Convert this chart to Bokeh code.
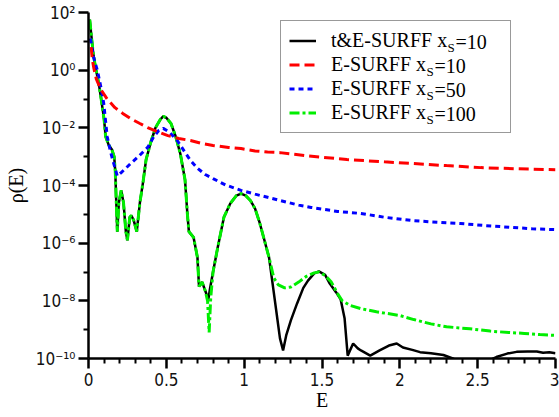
import numpy as np
from bokeh.plotting import figure
from bokeh.models import (FixedTicker, CustomJSTickFormatter, Legend, LegendItem, Label)
from bokeh.embed import file_html
from bokeh.resources import INLINE

# ---- data (E, log10 rho(E)) ----
black_E = [0.008, 0.017, 0.03, 0.045, 0.066, 0.08, 0.10, 0.11, 0.13, 0.15,
           0.165, 0.172, 0.178, 0.185, 0.195, 0.21, 0.225, 0.24, 0.25, 0.265,
           0.275, 0.29, 0.31, 0.33, 0.35, 0.37, 0.40, 0.43, 0.46, 0.48,
           0.50, 0.53, 0.56, 0.59, 0.62, 0.635, 0.645, 0.675, 0.70, 0.71,
           0.73, 0.75, 0.77, 0.78, 0.80, 0.83, 0.87, 0.91, 0.95, 0.98,
           1.01, 1.04, 1.07, 1.10, 1.13, 1.16, 1.18, 1.21, 1.23, 1.25,
           1.27, 1.30, 1.34, 1.38, 1.41, 1.45, 1.48, 1.52, 1.55, 1.59,
           1.62, 1.645, 1.665, 1.70, 1.73, 1.75, 1.81, 1.87, 1.93, 1.98,
           2.02, 2.08, 2.13, 2.20, 2.28, 2.34, 2.40, 2.50, 2.58, 2.62,
           2.69, 2.75, 2.82, 2.88, 2.92, 2.96, 3.0]
black_log = [1.75, 1.27, 0.6, 0.1, -0.46, -0.95, -1.7, -2.3, -2.6, -2.75,
             -3.0, -3.5, -4.5, -5.6, -4.6, -4.17, -4.6, -5.6, -5.9, -5.1,
             -5.04, -5.2, -5.6, -4.6, -3.9, -3.1, -2.5, -2.0, -1.72, -1.6,
             -1.65, -1.85, -2.3, -2.9, -3.8, -4.97, -5.6, -5.8, -6.5, -7.5,
             -7.35, -7.65, -7.95, -7.6, -7.0, -6.15, -5.1, -4.63, -4.35, -4.28,
             -4.35, -4.52, -4.8, -5.3, -5.9, -6.5, -7.3, -8.5, -9.3, -9.72,
             -9.2, -8.68, -8.09, -7.55, -7.3, -7.05, -6.98, -7.1, -7.4, -7.7,
             -7.95, -8.6, -9.9, -9.48, -9.65, -9.72, -9.9, -9.72, -9.55, -9.48,
             -9.62, -9.7, -9.78, -9.82, -9.88, -10.0, -10.15, -10.2, -10.05, -9.95,
             -9.83, -9.77, -9.76, -9.76, -9.8, -9.78, -9.82]

red_E = [0.017, 0.025, 0.035, 0.05, 0.077, 0.12, 0.17, 0.22, 0.27, 0.33,
         0.38, 0.45, 0.51, 0.58, 0.655, 0.72, 0.80, 0.90, 0.98, 1.07,
         1.15, 1.23, 1.40, 1.66, 1.90, 2.09, 2.30, 2.52, 2.75, 3.0]
red_log = [0.8, 0.35, 0.05, -0.3, -0.65, -1.0, -1.3, -1.5, -1.68, -1.85,
           -1.99, -2.15, -2.27, -2.37, -2.44, -2.53, -2.61, -2.68, -2.72, -2.8,
           -2.84, -2.86, -2.97, -3.1, -3.18, -3.24, -3.31, -3.38, -3.42, -3.45]

blue_E = [0.012, 0.017, 0.03, 0.057, 0.08, 0.098, 0.12, 0.14, 0.16, 0.185,
          0.21, 0.24, 0.27, 0.32, 0.38, 0.42, 0.45, 0.48, 0.52, 0.57,
          0.62, 0.655, 0.70, 0.75, 0.80, 0.88, 0.98, 1.07, 1.15, 1.23,
          1.35, 1.43, 1.60, 1.75, 1.90, 2.07, 2.20, 2.39, 2.55, 2.71,
          2.85, 3.0]
blue_log = [1.1, 0.95, 0.5, -0.01, -0.6, -1.16, -2.3, -2.8, -3.2, -3.67,
            -3.55, -3.4, -3.24, -3.0, -2.68, -2.3, -2.1, -2.02, -2.15, -2.44,
            -2.85, -3.13, -3.4, -3.62, -3.76, -3.98, -4.17, -4.3, -4.41, -4.52,
            -4.68, -4.76, -4.9, -4.97, -5.1, -5.21, -5.26, -5.32, -5.39, -5.45,
            -5.5, -5.53]

green_E = [0.008, 0.017, 0.03, 0.045, 0.066, 0.08, 0.10, 0.11, 0.13, 0.15,
           0.165, 0.172, 0.178, 0.185, 0.195, 0.21, 0.225, 0.24, 0.25, 0.265,
           0.275, 0.29, 0.31, 0.33, 0.35, 0.37, 0.40, 0.43, 0.46, 0.48,
           0.50, 0.53, 0.56, 0.59, 0.62, 0.635, 0.645, 0.675, 0.70, 0.71,
           0.73, 0.75, 0.765, 0.775, 0.785, 0.80, 0.83, 0.87, 0.91, 0.95,
           0.98, 1.01, 1.04, 1.07, 1.10, 1.13, 1.16, 1.19, 1.22, 1.26,
           1.30, 1.35, 1.40, 1.45, 1.48, 1.52, 1.56, 1.60, 1.63, 1.68,
           1.75, 1.85, 1.92, 2.0, 2.09, 2.2, 2.3, 2.45, 2.58, 2.7,
           2.8, 2.9, 3.0]
green_log = [1.75, 1.27, 0.6, 0.1, -0.46, -0.95, -1.7, -2.3, -2.6, -2.75,
             -3.0, -3.5, -4.5, -5.6, -4.6, -4.17, -4.6, -5.6, -5.9, -5.1,
             -5.04, -5.2, -5.6, -4.6, -3.9, -3.1, -2.5, -2.0, -1.72, -1.6,
             -1.65, -1.85, -2.3, -2.9, -3.8, -4.97, -5.6, -5.8, -6.5, -7.5,
             -7.35, -7.65, -8.0, -9.1, -7.9, -7.0, -6.15, -5.1, -4.63, -4.35,
             -4.28, -4.35, -4.52, -4.8, -5.3, -5.9, -6.5, -7.2, -7.45, -7.55,
             -7.52, -7.35, -7.15, -7.03, -7.0, -7.12, -7.35, -7.75, -8.0, -8.16,
             -8.27, -8.38, -8.44, -8.51, -8.65, -8.8, -8.9, -8.97, -9.05, -9.1,
             -9.13, -9.17, -9.2]

x_ticks = [0, 0.5, 1, 1.5, 2, 2.5, 3]
x_minor = [0.1, 0.2, 0.3, 0.4, 0.6, 0.7, 0.8, 0.9, 1.1, 1.2, 1.3, 1.4,
           1.6, 1.7, 1.8, 1.9, 2.1, 2.2, 2.3, 2.4, 2.6, 2.7, 2.8, 2.9]
y_exp_major = [-10, -8, -6, -4, -2, 0, 2]
y_exp_minor = [-9, -7, -5, -3, -1, 1]

series_labels = ["t&E-SURFF x", "E-SURFF x", "E-SURFF x", "E-SURFF x"]
series_suffix = ["=10", "=10", "=50", "=100"]

# ---- figure ----
p = figure(width=559, height=417, x_range=(0, 3), y_range=(1e-10, 1e2),
           y_axis_type="log", output_backend="svg", toolbar_location=None,
           min_border_left=88, min_border_right=4, min_border_top=12,
           min_border_bottom=59)
p.outline_line_color = None
p.xgrid.visible = False
p.ygrid.visible = False
p.background_fill_color = "white"
p.border_fill_color = "white"

tick_font = "DejaVu Sans Condensed, DejaVu Sans"

p.xaxis.ticker = FixedTicker(ticks=x_ticks, minor_ticks=x_minor)
p.xaxis.formatter = CustomJSTickFormatter(code="return tick.toString();")
p.yaxis.ticker = FixedTicker(ticks=[10.0 ** e for e in y_exp_major],
                             minor_ticks=[10.0 ** e for e in y_exp_minor])
p.yaxis.formatter = CustomJSTickFormatter(code="""
const sup = {"-":"\u207b","0":"\u2070","1":"\u00b9","2":"\u00b2","3":"\u00b3",
             "4":"\u2074","5":"\u2075","6":"\u2076","7":"\u2077","8":"\u2078","9":"\u2079"};
const e = Math.round(Math.log10(tick));
return "10" + String(e).split("").map(c => sup[c]).join("");
""")

for ax in (p.xaxis[0], p.yaxis[0]):
    ax.axis_line_width = 2.5
    ax.axis_line_color = "black"
    ax.major_tick_line_width = 2.5
    ax.minor_tick_line_width = 2
    ax.major_tick_line_color = "black"
    ax.minor_tick_line_color = "black"
    ax.major_tick_in = 0
    ax.minor_tick_in = 0
    ax.major_tick_out = 10
    ax.minor_tick_out = 5
    ax.major_label_text_font = tick_font
    ax.major_label_text_font_size = "17px"
    ax.major_label_text_color = "#111111"
    ax.axis_label_text_font = "Liberation Serif"
    ax.axis_label_text_font_size = "20px"
    ax.axis_label_text_font_style = "normal"
    ax.axis_label_text_color = "black"

p.xaxis.axis_label = "E"
p.yaxis.axis_label = "\u03c1(E)"
p.xaxis.major_label_standoff = 4
p.xaxis.axis_label_standoff = 0
p.yaxis.major_label_standoff = 3
p.yaxis.axis_label_standoff = 6

r_black = p.line(black_E, 10.0 ** np.array(black_log), line_color="black", line_width=2.5)
r_green = p.line(green_E, 10.0 ** np.array(green_log), line_color="#00ee00", line_width=3,
                 line_dash="10 3 3 3")
r_blue = p.line(blue_E, 10.0 ** np.array(blue_log), line_color="#0000ff", line_width=3,
                line_dash="5 4")
r_red = p.line(red_E, 10.0 ** np.array(red_log), line_color="#ff0000", line_width=3,
               line_dash="10 5")

renderers = [r_black, r_red, r_blue, r_green]
legend = Legend(items=[LegendItem(label=lab, renderers=[r]) for lab, r in zip(series_labels, renderers)],
                location=(192, 225), padding=8, spacing=1, glyph_width=27, glyph_height=23,
                label_height=23, label_width=171, label_standoff=15,
                border_line_color="#333333", border_line_width=1.5,
                background_fill_alpha=0.0,
                label_text_font="Liberation Serif", label_text_font_size="20px",
                label_text_color="black")
p.add_layout(legend)

# subscript "S" and suffix text next to each legend label (screen units relative to frame)
text_x0 = 330 - 88
label_widths = [116, 95, 95, 95]
for i, (w, suf) in enumerate(zip(label_widths, series_suffix)):
    yc = 358 - (41.5 + 24 * i)
    p.add_layout(Label(x=text_x0 + w + 1, y=yc - 5, x_units="screen", y_units="screen",
                       text="S", text_font="Liberation Serif", text_font_size="13px",
                       text_baseline="middle", text_color="black"))
    p.add_layout(Label(x=text_x0 + w + 9, y=yc, x_units="screen", y_units="screen",
                       text=suf, text_font="Liberation Serif", text_font_size="20px",
                       text_baseline="middle", text_color="black"))

with open("out.html", "w", encoding="utf-8") as f:
    f.write(file_html(p, INLINE))
